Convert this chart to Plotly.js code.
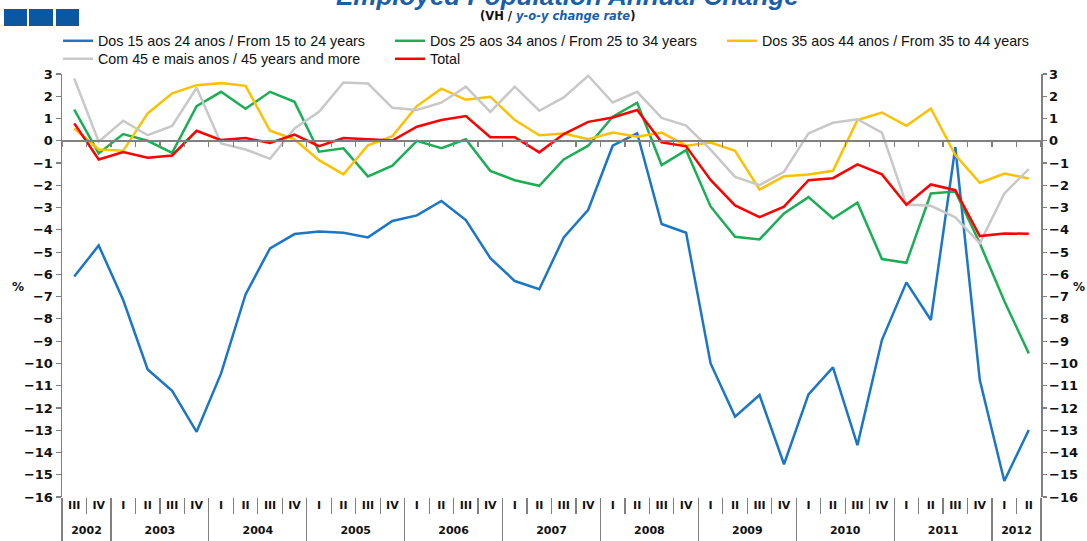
<!DOCTYPE html>
<html>
<head>
<meta charset="utf-8">
<script src="https://cdn.plot.ly/plotly-3.0.1.min.js"></script>
<style>html,body{margin:0;padding:0;background:#fff;}#chart{width:1087px;height:541px;}</style>
</head>
<body>
<div id="chart"></div>
<script>
const years = ['2002','2003','2004','2005','2006','2007','2008','2009','2010','2011','2012'];
const quartersPerYear = [2,4,4,4,4,4,4,4,4,4,2];
const quarters = ['III','IV',
  'I','II','III','IV','I','II','III','IV','I','II','III','IV',
  'I','II','III','IV','I','II','III','IV','I','II','III','IV',
  'I','II','III','IV','I','II','III','IV','I','II','III','IV',
  'I','II'];

const age15to24 = [-6.1,-4.7,-7.15,-10.27,-11.23,-13.07,-10.45,-6.9,-4.83,-4.19,-4.08,-4.13,-4.34,-3.6,-3.35,-2.7,-3.56,-5.27,-6.3,-6.67,-4.34,-3.1,-0.22,0.34,-3.74,-4.13,-10.0,-12.39,-11.42,-14.53,-11.39,-10.18,-13.67,-8.95,-6.36,-8.05,-0.29,-10.75,-15.28,-12.99];
const age25to34 = [1.4,-0.57,0.3,0.0,-0.54,1.56,2.2,1.44,2.2,1.75,-0.49,-0.34,-1.6,-1.12,0.0,-0.33,0.07,-1.35,-1.77,-2.02,-0.84,-0.22,1.08,1.71,-1.09,-0.42,-2.95,-4.31,-4.43,-3.26,-2.53,-3.49,-2.78,-5.31,-5.48,-2.37,-2.28,-4.6,-7.2,-9.55];
const age35to44 = [0.55,-0.39,-0.45,1.23,2.13,2.5,2.59,2.47,0.45,0.06,-0.87,-1.51,-0.2,0.21,1.56,2.34,1.84,1.98,0.93,0.25,0.33,0.07,0.37,0.18,0.37,-0.22,-0.08,-0.45,-2.19,-1.59,-1.51,-1.35,0.93,1.27,0.67,1.45,-0.64,-1.89,-1.47,-1.69];
const age45plus = [2.8,-0.04,0.9,0.25,0.67,2.38,-0.12,-0.39,-0.81,0.55,1.3,2.62,2.57,1.48,1.38,1.71,2.43,1.3,2.43,1.35,1.95,2.92,1.72,2.2,1.03,0.68,-0.4,-1.62,-1.99,-1.39,0.33,0.81,0.97,0.37,-2.86,-2.92,-3.44,-4.61,-2.37,-1.27];
const total = [0.78,-0.84,-0.51,-0.76,-0.66,0.45,0.03,0.12,-0.1,0.28,-0.24,0.12,0.07,0.01,0.63,0.93,1.11,0.16,0.16,-0.52,0.3,0.85,1.05,1.38,-0.07,-0.25,-1.76,-2.9,-3.43,-2.96,-1.77,-1.68,-1.06,-1.51,-2.87,-1.96,-2.22,-4.28,-4.16,-4.18];

const seriesNames = ['Dos 15 aos 24 anos / From 15 to 24 years','Dos 25 aos 34 anos / From 25 to 34 years','Dos 35 aos 44 anos / From 35 to 44 years','Com 45 e mais anos / 45 years and more','Total'];
const seriesData = [age15to24, age25to34, age35to44, age45plus, total];
const seriesColors = ['#1a76c8','#1aaf55','#ffc000','#c8c8c8','#ff0000'];
const seriesLegend = ['legend','legend','legend','legend2','legend2'];

const yMin = -16, yMax = 3;
const idx = quarters.map((q,i)=>i);
const traces = seriesData.map((d,i)=>({
  type:'scatter', mode:'lines', name:seriesNames[i], legend:seriesLegend[i],
  x:idx, y:d,
  line:{color:seriesColors[i], width:2.5}, hoverinfo:'skip'
}));
// empty helper traces so that the overlay axes (ticks / labels only) are registered and drawn
['x2','x3','x4','x5','x6'].forEach(ax=>{
  traces.push({type:'scatter', mode:'lines', x:[0], y:[null], xaxis:ax, yaxis:(ax==='x6'?'y2':'y'),
    showlegend:false, hoverinfo:'skip', line:{width:0}});
});

// year boundaries and centres (in category index units)
const yearBounds = [-0.5], yearCentres = [];
let acc = -0.5;
quartersPerYear.forEach(n=>{ yearCentres.push(acc + n/2); acc += n; yearBounds.push(acc); });
const quarterBounds = idx.map(i=>i-0.5).concat([idx.length-0.5]);

const BLUE = '#1a5fa8';
const GREY = '#808080';
const tickFont = {family:'DejaVu Sans', size:13, color:'#111', weight:'bold'};
const catFont = {family:'DejaVu Sans', size:11, color:'#111', weight:'bold'};
const W = 979, H = 423, L = 62, T = 74;
const px = v => (v - L) / W;
const py = v => (T + H - v) / H;
const xr = [-0.5, idx.length-0.5];

const legendBase = {orientation:'h', x:px(58), xanchor:'left', yanchor:'middle', entrywidth:287, entrywidthmode:'pixels',
    font:{family:'Liberation Sans', size:14.3, color:'#111'}, bgcolor:'rgba(0,0,0,0)', itemwidth:30};
const hidden = {showline:false, showgrid:false, zeroline:false};

const layout = {
  width:1087, height:541,
  margin:{l:62, r:46, t:74, b:44},
  paper_bgcolor:'#fff', plot_bgcolor:'#fff',
  showlegend:true,
  legend:Object.assign({}, legendBase, {y:py(41)}),
  legend2:Object.assign({}, legendBase, {y:py(59)}),
  xaxis:Object.assign({type:'linear', range:xr, tickmode:'array', tickvals:idx, ticktext:quarters, ticks:'', tickfont:catFont}, hidden),
  xaxis3:Object.assign({type:'linear', overlaying:'x', anchor:'y', side:'bottom', range:xr, tickmode:'array', tickvals:quarterBounds,
    ticks:'outside', ticklen:16, tickcolor:GREY, tickwidth:1.2, showticklabels:false}, hidden),
  xaxis4:Object.assign({type:'linear', overlaying:'x', anchor:'y', side:'bottom', range:xr, tickmode:'array', tickvals:yearCentres, ticktext:years,
    ticks:'', ticklabelstandoff:25, tickfont:catFont}, hidden),
  xaxis5:Object.assign({type:'linear', overlaying:'x', anchor:'y', side:'bottom', range:xr, tickmode:'array', tickvals:yearBounds,
    ticks:'outside', ticklen:44, tickcolor:GREY, tickwidth:1.2, showticklabels:false}, hidden),
  xaxis2:{type:'linear', overlaying:'x', anchor:'free', position:(0-yMin)/(yMax-yMin), range:xr,
    tickmode:'array', tickvals:quarterBounds, ticks:'outside', ticklen:5, tickcolor:GREY, tickwidth:1.2,
    showticklabels:false, showline:true, linecolor:GREY, linewidth:2, showgrid:false, zeroline:false},
  xaxis6:Object.assign({type:'linear', overlaying:'x', anchor:'y2', range:xr, showticklabels:false, ticks:''}, hidden),
  yaxis:{range:[yMin,yMax], dtick:1, ticks:'outside', ticklen:5, tickcolor:GREY, tickwidth:1.2,
    showline:true, linecolor:GREY, linewidth:1.5, showgrid:false, zeroline:false, tickfont:tickFont, tickformat:'d'},
  yaxis2:{range:[yMin,yMax], dtick:1, overlaying:'y', side:'right', anchor:'x', ticks:'outside', ticklen:4,
    tickcolor:GREY, tickwidth:1.2, showline:true, linecolor:GREY, linewidth:1.5, showgrid:false,
    zeroline:false, tickfont:tickFont, tickformat:'d'},
  annotations:[
    {text:'<b><i>Employed Population Annual Change</i></b>', xref:'paper', yref:'paper',
     x:px(567), y:py(-4), xanchor:'center', yanchor:'middle', showarrow:false,
     font:{family:'Liberation Sans', size:26, color:BLUE}},
    {text:'<b>(VH / <span style="color:'+BLUE+'"><i>y-o-y change rate</i></span>)</b>', xref:'paper', yref:'paper',
     x:px(557), y:py(16), xanchor:'center', yanchor:'middle', showarrow:false,
     font:{family:'DejaVu Sans', size:11.5, color:'#111'}},
    {text:'<b>%</b>', xref:'paper', yref:'paper', x:px(18), y:py(287), xanchor:'center', yanchor:'middle', showarrow:false,
     font:{family:'DejaVu Sans', size:12, color:'#111'}},
    {text:'<b>%</b>', xref:'paper', yref:'paper', x:px(1079), y:py(287), xanchor:'center', yanchor:'middle', showarrow:false,
     font:{family:'DejaVu Sans', size:12, color:'#111'}}
  ],
  shapes:[[4,27],[29,53],[56,79]].map(([a,b])=>({type:'rect', xref:'paper', yref:'paper',
    x0:px(a), x1:px(b), y0:py(26), y1:py(9), fillcolor:'#0b57a0', line:{width:0}}))
};

Plotly.newPlot('chart', traces, layout, {staticPlot:true, displayModeBar:false});
</script>
</body>
</html>
